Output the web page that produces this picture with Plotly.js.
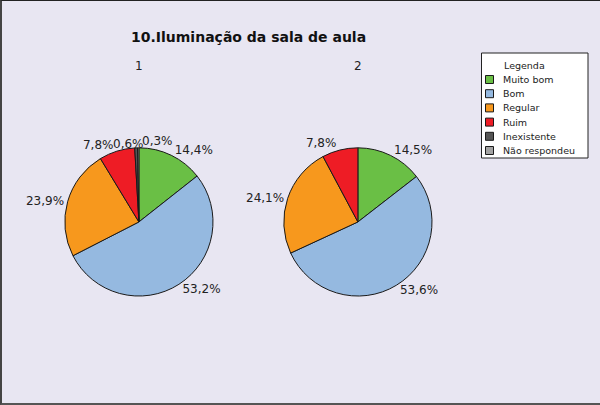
<!DOCTYPE html>
<html>
<head>
<meta charset="utf-8">
<script src="https://cdn.plot.ly/plotly-3.0.1.min.js"></script>
<style>
  body { margin: 0; background: #e8e6f2; }
  #wrap { position: relative; width: 600px; height: 405px; }
  #chart { position: absolute; left: 0; top: 0; width: 600px; height: 405px; }
  #frame {
    position: absolute; left: 0; top: 0; width: 600px; height: 405px;
    box-sizing: border-box; pointer-events: none;
    border-top: 1px solid #222; border-left: 2px solid #444; border-bottom: 2px solid #555;
  }
</style>
</head>
<body>
<div id="wrap">
  <div id="chart"></div>
  <div id="frame"></div>
</div>
<script>
  // categories and series
  const categories = ['Muito bom', 'Bom', 'Regular', 'Ruim', 'Inexistente', 'Não respondeu'];
  const colors = ['#6abf45', '#95b9e0', '#f7981d', '#ee1c25', '#555555', '#a3a3a3'];
  const values1 = [14.4, 53.2, 23.9, 7.8, 0.6, 0.3];
  const values2 = [14.5, 53.6, 24.1, 7.8];
  const pieNames = ['1', '2'];

  const fmt = v => v.toFixed(1).replace('.', ',') + '%';
  const font = 'DejaVu Sans, Verdana, sans-serif';

  // tiny slices get their labels side by side above the pie, like the original
  function pieTrace (values, domainX) {
    return {
      type: 'pie',
      labels: categories.slice(0, values.length),
      values: values,
      text: values.map(v => v < 1 ? '' : fmt(v)),
      textinfo: 'text',
      textposition: 'outside',
      sort: false,
      direction: 'clockwise',
      rotation: 0,
      hoverinfo: 'label+text',
      marker: { colors: colors, line: { color: '#1a1a1a', width: 1 } },
      outsidetextfont: { family: font, size: 12, color: '#222' },
      domain: { x: domainX, y: [0.269, 0.635] },
      showlegend: false
    };
  }

  const data = [
    pieTrace(values1, [0.108, 0.355]),
    pieTrace(values2, [0.473, 0.72])
  ];

  // hand-built legend box (Plotly's own rows are too tall)
  const shapes = [{
    type: 'rect', xref: 'paper', yref: 'paper',
    x0: 481.5 / 600, x1: 588 / 600, y0: 1 - 158 / 405, y1: 1 - 53 / 405,
    line: { color: '#222', width: 1 }, fillcolor: '#ffffff'
  }];
  const annotations = [
    { text: '<b>10.Iluminação da sala de aula</b>', x: 248 / 600, y: 1 - 37 / 405,
      font: { family: font, size: 14, color: '#111' } },
    { text: pieNames[0], x: 139 / 600, y: 1 - 66 / 405, font: { family: font, size: 12, color: '#222' } },
    { text: pieNames[1], x: 358 / 600, y: 1 - 66 / 405, font: { family: font, size: 12, color: '#222' } },
    { text: fmt(values1[4]), x: 128 / 600, y: 1 - 144 / 405, font: { family: font, size: 12, color: '#222' } },
    { text: fmt(values1[5]), x: 157 / 600, y: 1 - 141 / 405, font: { family: font, size: 12, color: '#222' } },
    { text: 'Legenda', x: 502 / 600, y: 1 - 65 / 405, xanchor: 'left',
      font: { family: font, size: 9.5, color: '#222' } }
  ];
  categories.forEach((c, i) => {
    const cy = 79.5 + i * 14.2;
    shapes.push({
      type: 'rect', xref: 'paper', yref: 'paper',
      x0: 485.5 / 600, x1: 493.5 / 600, y0: 1 - (cy + 4) / 405, y1: 1 - (cy - 4) / 405,
      fillcolor: colors[i], line: { color: '#1a1a1a', width: 1 }
    });
    annotations.push({
      text: c, x: 501 / 600, y: 1 - cy / 405, xanchor: 'left',
      font: { family: font, size: 9.5, color: '#222' }
    });
  });
  annotations.forEach(a => {
    a.xref = 'paper'; a.yref = 'paper'; a.showarrow = false;
    if (!a.xanchor) a.xanchor = 'center';
    a.yanchor = 'middle';
  });

  const layout = {
    width: 600,
    height: 405,
    margin: { l: 0, r: 0, t: 0, b: 0 },
    paper_bgcolor: '#e8e6f2',
    plot_bgcolor: '#e8e6f2',
    showlegend: false,
    shapes: shapes,
    annotations: annotations
  };

  Plotly.newPlot('chart', data, layout, { displayModeBar: false, staticPlot: true });
</script>
</body>
</html>
